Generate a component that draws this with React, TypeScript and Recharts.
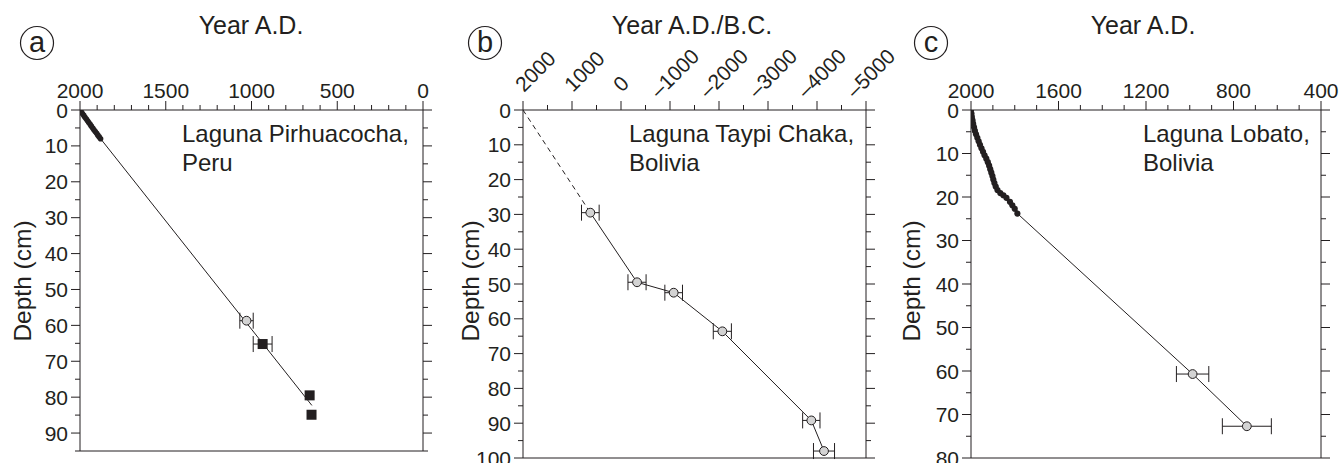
import React from 'react';
import { ComposedChart, Scatter, XAxis, YAxis, ErrorBar, Customized } from 'recharts';

const FONT = '"Liberation Sans", Arial, Helvetica, sans-serif';
const INK = '#231f20';
const GREY = '#d3d3d3';

// ---------- Panel a : Laguna Pirhuacocha, Peru ----------
const pbA = [
  { year: 2000, depth: 0 }, { year: 1993, depth: 0.5 }, { year: 1986, depth: 1 },
  { year: 1978, depth: 1.5 }, { year: 1971, depth: 2 }, { year: 1963, depth: 2.5 },
  { year: 1956, depth: 3 }, { year: 1949, depth: 3.5 }, { year: 1941, depth: 4 },
  { year: 1934, depth: 4.5 }, { year: 1926, depth: 5 }, { year: 1919, depth: 5.5 },
  { year: 1911, depth: 6 }, { year: 1903, depth: 6.5 }, { year: 1896, depth: 7 },
  { year: 1888, depth: 7.5 }, { year: 1880, depth: 8 },
];
const modelEndA = [{ year: 648, depth: 82.3 }];
const c14A = [{ year: 1029, depth: 58.7, err: 39 }];
const squareErrA = [{ year: 935, depth: 65.2, err: 55 }];
const squareA = [{ year: 661, depth: 79.5 }, { year: 650, depth: 84.9 }];
const yearMajorA = [2000, 1500, 1000, 500, 0];
const depthMajorA = [0, 10, 20, 30, 40, 50, 60, 70, 80, 90];

// ---------- Panel b : Laguna Taypi Chaka, Bolivia ----------
const surfaceB = [{ year: 2000, depth: 0 }];
const c14B = [
  { year: 626, depth: 29.5, err: 180 },
  { year: -327, depth: 49.5, err: 185 },
  { year: -1075, depth: 52.5, err: 180 },
  { year: -2068, depth: 63.6, err: 185 },
  { year: -3884, depth: 89.2, err: 177 },
  { year: -4143, depth: 98, err: 215 },
];
const yearMajorB = [2000, 1000, 0, -1000, -2000, -3000, -4000, -5000];
const depthMajorB = [0, 10, 20, 30, 40, 50, 60, 70, 80, 90, 100];

// ---------- Panel c : Laguna Lobato, Bolivia ----------
const pbC = [
  { year: 2000, depth: 0 }, { year: 1998, depth: 0.8 }, { year: 1996, depth: 1.6 },
  { year: 1993, depth: 2.4 }, { year: 1990, depth: 3.2 }, { year: 1986, depth: 4 },
  { year: 1982, depth: 4.8 }, { year: 1977, depth: 5.6 }, { year: 1971, depth: 6.4 },
  { year: 1965, depth: 7.2 }, { year: 1959, depth: 8 }, { year: 1952, depth: 8.8 },
  { year: 1945, depth: 9.6 }, { year: 1938, depth: 10.4 }, { year: 1930, depth: 11.2 },
  { year: 1923, depth: 12 }, { year: 1917, depth: 12.8 }, { year: 1912, depth: 13.6 },
  { year: 1907, depth: 14.4 }, { year: 1902, depth: 15.2 }, { year: 1898, depth: 16 },
  { year: 1893, depth: 16.8 }, { year: 1887, depth: 17.6 }, { year: 1879, depth: 18.4 },
  { year: 1866, depth: 19.1 }, { year: 1852, depth: 19.6 }, { year: 1838, depth: 20.2 },
  { year: 1822, depth: 21.1 }, { year: 1811, depth: 21.9 }, { year: 1800, depth: 22.7 },
  { year: 1788, depth: 23.8 },
];
const c14C = [
  { year: 987, depth: 60.7, err: 74 },
  { year: 739, depth: 72.7, err: 112 },
];
const yearMajorC = [2000, 1600, 1200, 800, 400];
const depthMajorC = [0, 10, 20, 30, 40, 50, 60, 70, 80];

// ---------- helpers ----------
const steps = (from: number, to: number, step: number) => {
  const out: number[] = [];
  const n = Math.round(Math.abs(to - from) / step);
  for (let i = 0; i <= n; i++) out.push(from + Math.sign(to - from) * step * i);
  return out;
};
const fmt = (v: number) => (v < 0 ? '\u2013' + Math.abs(v) : String(v));

type Side = 'top' | 'bottom' | 'left' | 'right';
const makeTick = (side: Side, edge: number, majors: number[], showLabel: boolean, rotated = false) =>
  (props: any) => {
    const { x, y, payload } = props;
    const v = payload.value;
    const major = majors.includes(v);
    const len = major ? 9 : 5;
    const horiz = side === 'top' || side === 'bottom';
    const c = payload.coordinate != null ? payload.coordinate : horiz ? x : y;
    let line: any;
    if (side === 'top') line = <line x1={c} y1={edge} x2={c} y2={edge - len} stroke={INK} strokeWidth={1} />;
    else if (side === 'bottom') line = <line x1={c} y1={edge} x2={c} y2={edge + len} stroke={INK} strokeWidth={1} />;
    else if (side === 'left') line = <line x1={edge - len} y1={c} x2={edge} y2={c} stroke={INK} strokeWidth={1} />;
    else line = <line x1={edge} y1={c} x2={edge + len} y2={c} stroke={INK} strokeWidth={1} />;
    let label: any = null;
    if (showLabel && major) {
      if (side === 'top' && rotated) {
        const neg = v < 0;
        label = (
          <g transform={`translate(${c + 1},${edge - 17}) rotate(-45)`}>
            <text x={neg ? -12.5 : 0} y={neg ? -4 : 0} textAnchor="start" fontSize={21} fill={INK} fontFamily={FONT}>{fmt(v)}</text>
          </g>
        );
      } else if (side === 'top') {
        label = <text x={c} y={edge - 12} textAnchor="middle" fontSize={21} fill={INK} fontFamily={FONT}>{fmt(v)}</text>;
      } else if (side === 'left') {
        label = <text x={edge - 12} y={c + 7.5} textAnchor="end" fontSize={21} fill={INK} fontFamily={FONT}>{fmt(v)}</text>;
      }
    }
    return <g>{line}{label}</g>;
  };

const circleShape = (p: any) => <circle cx={p.cx} cy={p.cy} r={4.4} fill={GREY} stroke={INK} strokeWidth={1} />;
const squareShape = (p: any) => <rect x={p.cx - 5} y={p.cy - 5} width={10} height={10} fill={INK} />;
const dotShapeA = (p: any) => <circle cx={p.cx} cy={p.cy} r={2.8} fill={INK} />;
const dotShapeC = (p: any) => <circle cx={p.cx} cy={p.cy} r={3.1} fill={INK} />;
const noShape = () => <g />;

type PanelProps = {
  left: number; width: number; leftW: number; rightW: number; bottomH: number;
  xDomain: [number, number]; xTicks: number[]; xMajors: number[];
  yDomain: [number, number]; yTicks: number[]; yMajors: number[];
  rotated?: boolean; overlay: any; children: any;
};

const TOP = 110;
const H = 463;

function Panel(p: PanelProps) {
  const plotBottom = H - p.bottomH;
  const plotRight = p.width - p.rightW;
  return (
    <div style={{ position: 'absolute', left: p.left, top: 0, width: p.width, height: H }}>
      <ComposedChart width={p.width} height={H} margin={{ top: 0, right: 0, bottom: 0, left: 0 }}>
        <XAxis xAxisId="t" orientation="top" type="number" dataKey="year" domain={p.xDomain} reversed
          ticks={p.xTicks} interval={0} height={TOP} tickLine={false} allowDataOverflow
          axisLine={{ stroke: INK, strokeWidth: 1 }} tick={makeTick('top', TOP, p.xMajors, true, p.rotated)} />
        <XAxis xAxisId="b" orientation="bottom" type="number" domain={p.xDomain} reversed
          ticks={p.xTicks} interval={0} height={p.bottomH} tickLine={false} allowDataOverflow
          axisLine={{ stroke: INK, strokeWidth: 1 }} tick={makeTick('bottom', plotBottom, p.xMajors, false)} />
        <YAxis yAxisId="l" orientation="left" type="number" dataKey="depth" domain={p.yDomain} reversed
          ticks={p.yTicks} interval={0} width={p.leftW} tickLine={false} allowDataOverflow
          axisLine={{ stroke: INK, strokeWidth: 1 }} tick={makeTick('left', p.leftW, p.yMajors, true)} />
        <YAxis yAxisId="r" orientation="right" type="number" domain={p.yDomain} reversed
          ticks={p.yTicks} interval={0} width={p.rightW} tickLine={false} allowDataOverflow
          axisLine={{ stroke: INK, strokeWidth: 1 }} tick={makeTick('right', plotRight, p.yMajors, false)} />
        {p.children}
        <Customized component={p.overlay} />
      </ComposedChart>
    </div>
  );
}

const Overlay = ({ letter, cx, title, titleX, depthX, depthY, lines, noteX }: any) => () => (
  <g fontFamily={FONT} fill={INK}>
    <circle cx={cx} cy={43} r={16.5} fill="none" stroke={INK} strokeWidth={1.2} />
    <text x={cx} y={51.5} textAnchor="middle" fontSize={29} fill={INK}>{letter}</text>
    <text x={titleX} y={34} textAnchor="middle" fontSize={25} fill={INK}>{title}</text>
    <text transform={`translate(${depthX},${depthY}) rotate(-90)`} textAnchor="middle" fontSize={24.5} fill={INK}>Depth (cm)</text>
    {lines.map((s: string, i: number) => (
      <text key={i} x={noteX} y={142 + i * 29} fontSize={24} fill={INK}>{s}</text>
    ))}
  </g>
);

const lineStyle = { stroke: INK, strokeWidth: 1 };
const common = { xAxisId: 't', yAxisId: 'l', isAnimationActive: false } as const;

export default function App() {
  const modelA = [pbA[pbA.length - 1], ...modelEndA];
  const dashB = [surfaceB[0], c14B[0]];
  const modelC = [pbC[pbC.length - 1], ...c14C];
  return (
    <div style={{ position: 'absolute', left: 0, top: 0, width: 1341, height: 463, background: '#fff', overflow: 'hidden' }}>
      <Panel left={0} width={440} leftW={80} rightW={17} bottomH={12}
        xDomain={[0, 2000]} xTicks={steps(2000, 0, 100)} xMajors={yearMajorA}
        yDomain={[0, 95]} yTicks={steps(0, 95, 5)} yMajors={depthMajorA}
        overlay={Overlay({ letter: 'a', cx: 37, title: 'Year A.D.', titleX: 251, depthX: 31, depthY: 281,
          lines: ['Laguna Pirhuacocha,', 'Peru'], noteX: 182 })}>
        <Scatter {...common} data={modelA} shape={noShape} line={lineStyle} lineType="joint" />
        <Scatter {...common} data={pbA} shape={dotShapeA} line={{ stroke: INK, strokeWidth: 3 }} lineType="joint" />
        <Scatter {...common} data={c14A} shape={circleShape}>
          <ErrorBar dataKey="err" direction="x" width={8} stroke={INK} strokeWidth={1} isAnimationActive={false} />
        </Scatter>
        <Scatter {...common} data={squareErrA} shape={squareShape}>
          <ErrorBar dataKey="err" direction="x" width={8} stroke={INK} strokeWidth={1} isAnimationActive={false} />
        </Scatter>
        <Scatter {...common} data={squareA} shape={squareShape} />
      </Panel>

      <Panel left={440} width={475} leftW={83} rightW={49} bottomH={5}
        xDomain={[-5000, 2000]} xTicks={steps(2000, -5000, 500)} xMajors={yearMajorB}
        yDomain={[0, 100]} yTicks={steps(0, 100, 5)} yMajors={depthMajorB} rotated
        overlay={Overlay({ letter: 'b', cx: 45, title: 'Year A.D./B.C.', titleX: 252, depthX: 39, depthY: 281,
          lines: ['Laguna Taypi Chaka,', 'Bolivia'], noteX: 189 })}>
        <Scatter {...common} data={dashB} shape={noShape} line={{ stroke: INK, strokeWidth: 1, strokeDasharray: '5 4' }} lineType="joint" />
        <Scatter {...common} data={c14B} shape={circleShape} line={lineStyle} lineType="joint">
          <ErrorBar dataKey="err" direction="x" width={8} stroke={INK} strokeWidth={1} isAnimationActive={false} />
        </Scatter>
      </Panel>

      <Panel left={885} width={456} leftW={86} rightW={20} bottomH={5}
        xDomain={[400, 2000]} xTicks={steps(2000, 400, 100)} xMajors={yearMajorC}
        yDomain={[0, 80]} yTicks={steps(0, 80, 5)} yMajors={depthMajorC}
        overlay={Overlay({ letter: 'c', cx: 46, title: 'Year A.D.', titleX: 258, depthX: 35, depthY: 281,
          lines: ['Laguna Lobato,', 'Bolivia'], noteX: 258 })}>
        <Scatter {...common} data={modelC} shape={noShape} line={lineStyle} lineType="joint" />
        <Scatter {...common} data={pbC} shape={dotShapeC} line={{ stroke: INK, strokeWidth: 3 }} lineType="joint" />
        <Scatter {...common} data={c14C} shape={circleShape}>
          <ErrorBar dataKey="err" direction="x" width={8} stroke={INK} strokeWidth={1} isAnimationActive={false} />
        </Scatter>
      </Panel>
    </div>
  );
}
